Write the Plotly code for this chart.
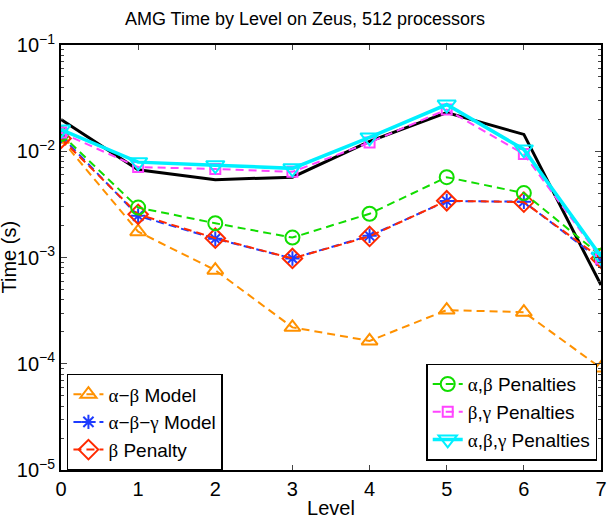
import plotly.graph_objects as go

levels = [0, 1, 2, 3, 4, 5, 6, 7]

measured = [0.0199, 0.0067, 0.0054, 0.0057, 0.0124, 0.0231, 0.0144, 0.00055]
ab_model = [0.0130, 0.00175, 0.00076, 0.00022, 0.000164, 0.00032, 0.000306, 0.000091]
abg_model = [0.0140, 0.00247, 0.00150, 0.00098, 0.00160, 0.00340, 0.00335, 0.00094]
b_penalty = [0.0132, 0.00255, 0.00152, 0.00098, 0.00158, 0.00342, 0.00332, 0.00098]
ab_pen = [0.0145, 0.00295, 0.00210, 0.00154, 0.00258, 0.00570, 0.00404, 0.00104]
bg_pen = [0.0150, 0.0071, 0.0068, 0.0064, 0.0121, 0.0247, 0.0094, 0.00098]
abg_pen = [0.0160, 0.0079, 0.0074, 0.0069, 0.0135, 0.0275, 0.0104, 0.00102]

names = ["α−β Model", "α−β−γ Model", "β Penalty",
         "α,β Penalties", "β,γ Penalties", "α,β,γ Penalties"]

ytickvals = [1e-5, 1e-4, 1e-3, 1e-2, 1e-1]
yticktext = ["10<sup>−5</sup>", "10<sup>−4</sup>", "10<sup>−3</sup>", "10<sup>−2</sup>", "10<sup>−1</sup>"]


def greek(s):
    out = ""
    for ch in s:
        if ch in "αβγ":
            out += '<span style="font-family:Liberation Serif">' + ch + '</span>'
        else:
            out += ch
    return out


DASH = "8px,5px"
fig = go.Figure()

fig.add_trace(go.Scatter(x=levels, y=measured, mode="lines", showlegend=False,
                         line=dict(color="black", width=3)))

specs = [
    (ab_model, names[0], "#FF9100", "triangle-up-open", 14, DASH, 2, "legend"),
    (abg_model, names[1], "#1E3CFF", "asterisk-open", 12, DASH, 2, "legend"),
    (b_penalty, names[2], "#FF2A00", "diamond-open", 15, DASH, 2, "legend"),
    (ab_pen, names[3], "#11DD00", "circle-open", 14, DASH, 2, "legend2"),
    (bg_pen, names[4], "#FF44FF", "square-open", 10, DASH, 2, "legend2"),
    (abg_pen, names[5], "#00F0FF", "triangle-down-open", 16, "solid", 3.5, "legend2"),
]
for vals, nm, col, sym, size, dash, lw, lg in specs:
    fig.add_trace(go.Scatter(
        x=levels, y=vals, mode="lines+markers", name=greek(nm), legend=lg,
        line=dict(color=col, width=lw, dash=dash),
        marker=dict(symbol=sym, size=size, color=col, line=dict(width=2, color=col)),
    ))

font = "Liberation Sans, Arial, sans-serif"
fig.update_layout(
    width=610, height=519,
    margin=dict(l=61, r=3, t=45, b=45),
    plot_bgcolor="white", paper_bgcolor="white",
    font=dict(family=font, size=20, color="black"),
    title=dict(text="AMG Time by Level on Zeus, 512 processors", x=0.5, xanchor="center",
               y=1 - 19 / 519, yanchor="middle", font=dict(size=18)),
    xaxis=dict(range=[0, 7], tickvals=levels, ticks="inside", ticklen=5, tickwidth=1,
               showline=True, linecolor="black", linewidth=2, mirror="allticks",
               showgrid=False, zeroline=False, tickfont=dict(size=20),
               ticklabeloverflow="allow",
               title=dict(text="Level", standoff=2, font=dict(size=20))),
    yaxis=dict(type="log", range=[-5, -1], tickvals=ytickvals, ticktext=yticktext,
               ticks="inside", ticklen=6, tickwidth=1, tickfont=dict(size=20),
               showline=True, linecolor="black", linewidth=2, mirror="allticks",
               showgrid=False, zeroline=False,
               minor=dict(ticks="inside", ticklen=3, tickwidth=1, showgrid=False,
                          tickvals=[m * 10 ** e for e in range(-5, -1) for m in range(2, 10)])),
    annotations=[dict(text="Time (s)", xref="paper", yref="paper", x=0, y=0.5,
                      xshift=-53, textangle=-90, showarrow=False,
                      font=dict(size=20), xanchor="center", yanchor="middle")],
    legend=dict(x=0.011, y=-0.002, xanchor="left", yanchor="bottom",
                bgcolor="white", bordercolor="black", borderwidth=1.5,
                font=dict(size=19), tracegroupgap=0),
    legend2=dict(x=0.993, y=0.022, xanchor="right", yanchor="bottom",
                 bgcolor="white", bordercolor="black", borderwidth=1.5,
                 font=dict(size=19), tracegroupgap=0),
)

fig.write_html("out.html")
